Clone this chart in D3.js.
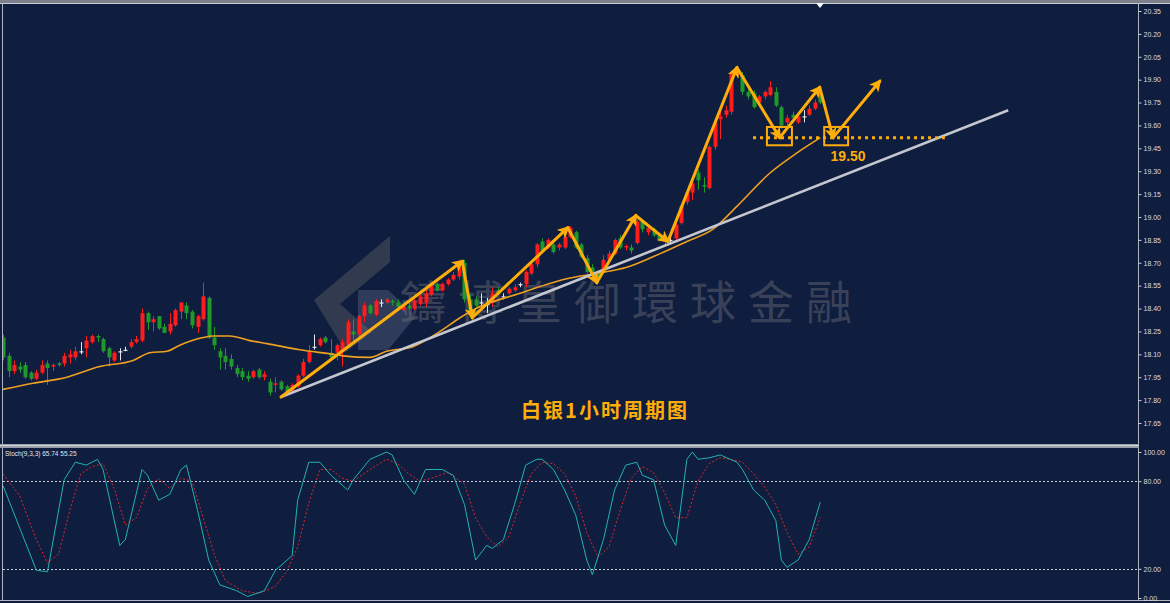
<!DOCTYPE html>
<html>
<head>
<meta charset="utf-8">
<script src="https://cdn.jsdelivr.net/npm/d3@7"></script>
<style>
  body { margin: 0; background: #0f1d3e; }
  svg { display: block; }
</style>
</head>
<body>
<div id="container"></div>
<script>
let w = 1170;
let h = 603;

// DATA (silver, 1 hour candles)
let openV = [18.21,18.09,17.99,18.02,18.03,17.98,17.94,17.98,18.04,18.02,
  18.04,18.04,18.08,18.08,18.12,18.14,18.18,18.22,18.20,18.14,
  18.06,18.12,18.13,18.15,18.18,18.19,18.37,18.31,18.35,18.28,
  18.25,18.29,18.38,18.42,18.38,18.28,18.33,18.47,18.21,18.12,
  18.09,18.07,18.01,17.99,17.96,17.95,18.00,17.95,17.92,17.90,
  17.92,17.89,17.86,17.89,17.96,18.05,18.15,18.16,18.21,18.11,
  18.11,18.12,18.16,18.25,18.23,18.35,18.42,18.36,18.44,18.44,
  18.45,18.44,18.39,18.42,18.40,18.43,18.44,18.49,18.56,18.52,
  18.56,18.59,18.61,18.70,18.46,18.46,18.44,18.43,18.44,18.52,
  18.48,18.50,18.52,18.56,18.56,18.63,18.69,18.84,18.80,18.82,
  18.80,18.80,18.87,18.90,18.82,18.73,18.67,18.63,18.64,18.72,
  18.76,18.86,18.80,18.80,18.83,18.97,18.90,18.92,18.88,18.87,
  18.85,18.86,18.96,19.10,19.16,19.29,19.21,19.19,19.46,19.64,
  19.67,19.69,19.93,19.93,19.82,19.81,19.75,19.79,19.80,19.82,
  19.72,19.62,19.67,19.62,19.66,19.67,19.71,19.81];
let highV = [18.23,18.11,18.06,18.05,18.05,17.99,18.00,18.06,18.06,18.04,
  18.05,18.11,18.13,18.15,18.18,18.22,18.23,18.23,18.21,18.15,
  18.12,18.14,18.15,18.20,18.22,18.40,18.38,18.35,18.35,18.30,
  18.37,18.40,18.44,18.44,18.39,18.36,18.57,18.48,18.28,18.14,
  18.14,18.10,18.03,18.01,17.99,18.00,18.01,17.99,17.94,17.95,
  17.93,17.90,17.91,17.97,18.07,18.16,18.23,18.21,18.22,18.20,
  18.17,18.20,18.33,18.33,18.36,18.44,18.43,18.46,18.46,18.47,
  18.46,18.46,18.44,18.44,18.46,18.49,18.52,18.56,18.57,18.57,
  18.60,18.64,18.72,18.72,18.49,18.48,18.50,18.47,18.54,18.54,
  18.50,18.54,18.56,18.57,18.65,18.70,18.83,18.86,18.86,18.83,
  18.83,18.88,18.94,18.91,18.83,18.75,18.69,18.65,18.75,18.78,
  18.86,18.88,18.82,18.82,18.98,18.98,18.94,18.93,18.90,18.88,
  18.87,18.97,19.08,19.18,19.24,19.31,19.26,19.47,19.65,19.72,
  19.73,19.96,19.99,19.95,19.85,19.83,19.80,19.83,19.89,19.85,
  19.73,19.67,19.69,19.67,19.70,19.73,19.77,19.83];
let lowV = [18.06,17.95,17.97,17.98,17.94,17.93,17.93,17.97,17.90,17.99,
  18.02,18.02,18.04,18.06,18.10,18.08,18.17,18.18,18.11,18.02,
  18.05,18.06,18.12,18.14,18.17,18.18,18.26,18.25,18.26,18.24,
  18.23,18.28,18.33,18.33,18.27,18.24,18.32,18.20,18.13,18.00,
  18.00,18.00,17.95,17.93,17.92,17.94,17.94,17.93,17.83,17.85,
  17.86,17.83,17.85,17.88,17.95,18.04,18.13,18.15,18.17,18.07,
  18.06,18.02,18.15,18.18,18.22,18.31,18.36,18.35,18.41,18.43,
  18.42,18.40,18.38,18.39,18.39,18.42,18.41,18.48,18.51,18.51,
  18.55,18.58,18.59,18.44,18.34,18.41,18.41,18.37,18.41,18.49,
  18.46,18.49,18.51,18.54,18.54,18.62,18.67,18.77,18.79,18.76,
  18.78,18.79,18.86,18.79,18.73,18.63,18.62,18.57,18.63,18.71,
  18.75,18.79,18.78,18.76,18.82,18.90,18.88,18.87,18.84,18.82,
  18.82,18.85,18.95,19.08,19.11,19.18,19.16,19.18,19.44,19.51,
  19.65,19.67,19.91,19.80,19.77,19.71,19.73,19.77,19.79,19.72,
  19.58,19.60,19.64,19.61,19.62,19.66,19.70,19.74];
let closeV = [18.08,17.99,18.03,18.00,17.95,17.94,17.98,18.03,18.01,18.03,
  18.03,18.09,18.10,18.12,18.12,18.19,18.22,18.21,18.12,18.08,
  18.11,18.12,18.13,18.18,18.20,18.37,18.31,18.33,18.27,18.24,
  18.30,18.39,18.44,18.37,18.29,18.35,18.48,18.21,18.16,18.08,
  18.05,18.02,17.97,17.95,17.94,17.99,17.95,17.97,17.85,17.91,
  17.87,17.85,17.90,17.96,18.05,18.12,18.15,18.20,18.18,18.08,
  18.16,18.18,18.31,18.23,18.35,18.42,18.37,18.45,18.44,18.46,
  18.44,18.41,18.42,18.40,18.45,18.48,18.50,18.55,18.52,18.56,
  18.59,18.62,18.67,18.46,18.38,18.42,18.44,18.43,18.50,18.50,
  18.48,18.53,18.54,18.56,18.64,18.69,18.82,18.78,18.85,18.77,
  18.82,18.87,18.93,18.80,18.74,18.64,18.63,18.59,18.72,18.76,
  18.85,18.80,18.81,18.78,18.97,18.92,18.93,18.88,18.85,18.84,
  18.85,18.95,19.07,19.16,19.22,19.24,19.20,19.46,19.62,19.66,
  19.70,19.94,19.96,19.82,19.79,19.72,19.79,19.82,19.85,19.73,
  19.60,19.65,19.65,19.66,19.66,19.71,19.75,19.75];

// moving average (candle index, price)
let maIdx = [0,5.4,11.5,17.4,23.4,26.4,29.5,31.8,36,37.8,40.8,44.4,47.5,53.4,59.4,61.2,66,69,73.7,78.6,82.2,84.5,93,102,106.8,112.2,118.2,123,127.7,132,138,142.8,147];
let maVal = [17.87,17.91,17.95,18.02,18.06,18.11,18.12,18.16,18.21,18.22,18.22,18.19,18.17,18.13,18.10,18.09,18.08,18.12,18.15,18.25,18.34,18.39,18.50,18.60,18.63,18.67,18.76,18.84,18.92,19.07,19.29,19.42,19.52];

// stochastic (9,3,3)
let stochIdx = [0,6,8,11,13,15,17,18,21,22,25,26,28,30,32,33,35,37,39,42,44,47,49,52,53,55,57,59,62,63,66,69,70,72,74,76,79,81,83,85,87,88,90,92,94,96,97,99,101,103,105,106,108,110,112,114,115,117,119,121,123,124,125,127,129,132,133,135,137,139,140,141,143,145,147];
let stochK = [77,19,18,81,93,91,95,88,36,40,88,84,67,71,88,91,60,26,9,5,1,5,19,29,67,93,93,84,74,81,95,100,98,81,71,88,88,84,64,26,36,34,40,64,91,95,95,88,74,57,26,16,40,74,91,93,84,81,50,36,95,100,95,96,98,93,88,74,67,53,26,21,26,40,65.74];
let stochDIdx = [0,3,6,8,10,12,14,16,18,20,22,24,26,28,30,32,34,36,38,40,43,46,49,51,53,55,57,59,61,63,66,69,71,73,75,77,80,83,85,87,89,91,93,95,97,99,101,103,105,107,109,111,113,115,117,119,121,123,125,127,129,131,133,135,137,139,141,143,145,147];
let stochD = [85,70,40,24,30,60,85,90,92,75,50,55,75,82,75,82,80,55,30,12,5,3,8,18,35,65,88,88,82,80,88,95,92,85,80,82,86,78,55,42,35,42,65,85,93,92,85,70,45,28,35,60,82,90,86,72,55,55,80,92,96,95,93,85,76,64,45,30,35,55.25];

let priceTicks = [20.35,20.20,20.05,19.90,19.75,19.60,19.45,19.30,19.15,19.00,18.85,18.70,18.55,18.40,18.25,18.10,17.95,17.80,17.65];
let stochTicks = [100, 80, 20, 0];

// annotations (candle index, price)
let zigIdx = [50.0,82.6,84.4,101.6,106.8,113.8,119.6,132.0,139.7,146.9,149.3,157.7];
let zigVal = [17.82,18.71,18.34,18.93,18.57,19.01,18.84,19.98,19.52,19.85,19.52,19.89];
let trendIdx = [50.0, 180.8];
let trendVal = [17.82, 19.70];
let supportLevel = 19.52;
let supportIdx = [134.9, 169.4];
let boxIdx = [[137.4, 141.9], [147.7, 152.0]];
let boxVal = [19.59, 19.47];

let orange = "#ffad0a";
let navy = "#0f1d3e";

// SVG
let viz = d3.select("#container").append("svg")
    .attr("width", w)
    .attr("height", h)
    .style("background-color", navy);

let defs = viz.append("defs");
defs.append("clipPath").attr("id", "mainClip").append("rect")
    .attr("x", 3).attr("y", 4).attr("width", 1135).attr("height", 440);
defs.append("clipPath").attr("id", "stochClip").append("rect")
    .attr("x", 3).attr("y", 449).attr("width", 1135).attr("height", 150);
defs.append("marker")
    .attr("id", "arrow")
    .attr("viewBox", "0 0 10 10")
    .attr("refX", 8).attr("refY", 5)
    .attr("markerWidth", 4).attr("markerHeight", 4)
    .attr("orient", "auto")
  .append("path")
    .attr("d", "M0,0L10,5L0,10L2.5,5z")
    .attr("fill", orange);

// SCALES
let x = d3.scaleLinear().domain([0, 147]).range([3, 820.3]);
let y = d3.scaleLinear().domain([17.65, 20.35]).range([423, 11]);
let ys = d3.scaleLinear().domain([0, 100]).range([598, 452]);

// FRAME
viz.append("rect").attr("x", 0).attr("y", 0).attr("width", w).attr("height", 3).attr("fill", "#7c818c");
viz.append("line").attr("x1", 0).attr("x2", w).attr("y1", 3.5).attr("y2", 3.5).attr("stroke", "#c9ccd3");
viz.append("line").attr("x1", 2.5).attr("x2", 2.5).attr("y1", 3).attr("y2", 600).attr("stroke", "#aeb3bd");
viz.append("line").attr("x1", 1138.5).attr("x2", 1138.5).attr("y1", 3).attr("y2", 600).attr("stroke", "#aeb3bd");
viz.append("rect").attr("x", 0).attr("y", 444).attr("width", 1139).attr("height", 4).attr("fill", "#9aa0ab");
viz.append("line").attr("x1", 0).attr("x2", 1139).attr("y1", 445.5).attr("y2", 445.5).attr("stroke", "#d4d7dc");
viz.append("line").attr("x1", 0).attr("x2", w).attr("y1", 600.5).attr("y2", 600.5).attr("stroke", "#aeb3bd");
viz.append("path").attr("d", "M816,3L824,3L820,8z").attr("fill", "#ffffff");

// WATERMARK
let wm = viz.append("g").attr("clip-path", "url(#mainClip)");
wm.append("path")
    .attr("d", "M314,300 L390,236 L390,262 L340,304 L372,332 L346,352 Z")
    .attr("fill", "#5d5f66").attr("opacity", 0.45);
wm.append("path")
    .attr("d", "M358,290 L388,290 L416,316 L388,350 L358,350 Z")
    .attr("fill", "#6a7590").attr("opacity", 0.35);
wm.append("text")
    .attr("x", 632).attr("y", 319)
    .attr("text-anchor", "middle")
    .attr("font-family", "Noto Sans CJK TC")
    .attr("font-size", 46)
    .attr("letter-spacing", 12)
    .attr("fill", "#6b6e78").attr("opacity", 0.45)
    .text("鑄博皇御環球金融");

// MAIN PANEL
let main = viz.append("g").attr("clip-path", "url(#mainClip)");

let candles = main.selectAll(".candle").data(openV.map((o, i) => i))
  .enter().append("g").attr("class", "candle");
let candleColor = i => closeV[i] > openV[i] ? "#ff1c1c" : (closeV[i] < openV[i] ? "#1f9a2a" : "#e4e6ea");
candles.append("line")
    .attr("x1", i => Math.round(x(i)) + 0.5)
    .attr("x2", i => Math.round(x(i)) + 0.5)
    .attr("y1", i => y(highV[i]))
    .attr("y2", i => y(lowV[i]))
    .attr("stroke", candleColor)
    .attr("stroke-width", 1);
candles.append("rect")
    .attr("x", i => Math.round(x(i)) - 1.5)
    .attr("width", 4)
    .attr("y", i => y(Math.max(openV[i], closeV[i])))
    .attr("height", i => Math.max(1.2, Math.abs(y(openV[i]) - y(closeV[i]))))
    .attr("fill", candleColor);

// moving average
let maLine = d3.line().x(d => x(d[0])).y(d => y(d[1])).curve(d3.curveMonotoneX);
main.append("path")
    .datum(maIdx.map((d, i) => [d, maVal[i]]))
    .attr("d", maLine)
    .attr("fill", "none")
    .attr("stroke", "#f0a020")
    .attr("stroke-width", 1.6);

// trend line
main.append("line")
    .attr("x1", x(trendIdx[0])).attr("y1", y(trendVal[0]))
    .attr("x2", x(trendIdx[1])).attr("y2", y(trendVal[1]))
    .attr("stroke", "#c4c7cf")
    .attr("stroke-width", 2.6);

// support level
main.append("line")
    .attr("x1", x(supportIdx[0])).attr("x2", x(supportIdx[1]))
    .attr("y1", y(supportLevel)).attr("y2", y(supportLevel))
    .attr("stroke", orange)
    .attr("stroke-width", 3)
    .attr("stroke-dasharray", "3,4");

main.selectAll(".box").data(boxIdx).enter().append("rect")
    .attr("class", "box")
    .attr("x", d => x(d[0]))
    .attr("width", d => x(d[1]) - x(d[0]))
    .attr("y", y(boxVal[0]))
    .attr("height", y(boxVal[1]) - y(boxVal[0]))
    .attr("fill", "none")
    .attr("stroke", orange)
    .attr("stroke-width", 2);

// zigzag arrows
let segs = d3.range(zigIdx.length - 1);
main.selectAll(".seg").data(segs).enter().append("line")
    .attr("class", "seg")
    .attr("x1", i => x(zigIdx[i])).attr("y1", i => y(zigVal[i]))
    .attr("x2", i => x(zigIdx[i + 1])).attr("y2", i => y(zigVal[i + 1]))
    .attr("stroke", orange)
    .attr("stroke-width", 3)
    .attr("stroke-linecap", "round")
    .attr("marker-end", "url(#arrow)");

main.append("text")
    .attr("x", x(152)).attr("y", y(19.37))
    .attr("text-anchor", "middle")
    .attr("font-family", "Liberation Sans")
    .attr("font-weight", "bold")
    .attr("font-size", 14)
    .attr("fill", orange)
    .text("19.50");

main.append("text")
    .attr("x", 605).attr("y", 418)
    .attr("text-anchor", "middle")
    .attr("font-family", "Noto Sans CJK SC")
    .attr("font-weight", "bold")
    .attr("font-size", 20)
    .attr("letter-spacing", 2)
    .attr("fill", orange)
    .text("白银1小时周期图");

// price axis
let yAxis = d3.axisRight(y).tickValues(priceTicks).tickSize(3).tickFormat(d3.format(".2f"));
let ya = viz.append("g").attr("transform", "translate(1138.5,0)").call(yAxis);
ya.select(".domain").remove();
ya.selectAll("line").attr("stroke", "#c9ccd3");
ya.selectAll("text").attr("fill", "#d9dce3").attr("font-family", "Liberation Sans").attr("font-size", 7).attr("x", 5);

// STOCH PANEL
let st = viz.append("g").attr("clip-path", "url(#stochClip)");
[80, 20].forEach(v => {
  st.append("line")
    .attr("x1", 3).attr("x2", 1138)
    .attr("y1", Math.round(ys(v)) + 0.5).attr("y2", Math.round(ys(v)) + 0.5)
    .attr("stroke", "#c8ccd6")
    .attr("stroke-dasharray", "2,2");
});
let kLine = d3.line().x(d => x(d[0])).y(d => ys(d[1]));
st.append("path")
    .datum(stochDIdx.map((d, i) => [d, stochD[i]]))
    .attr("d", kLine)
    .attr("fill", "none")
    .attr("stroke", "#e0262a")
    .attr("stroke-width", 1)
    .attr("stroke-dasharray", "2,2");
st.append("path")
    .datum(stochIdx.map((d, i) => [d, stochK[i]]))
    .attr("d", kLine)
    .attr("fill", "none")
    .attr("stroke", "#22b3b0")
    .attr("stroke-width", 1);

viz.append("text")
    .attr("x", 5).attr("y", 456)
    .attr("font-family", "Liberation Sans")
    .attr("font-size", 6.5)
    .attr("fill", "#e2e4ea")
    .text("Stoch(9,3,3) 65.74 55.25");

let sAxis = d3.axisRight(ys).tickValues(stochTicks).tickSize(3).tickFormat(d3.format(".2f"));
let sa = viz.append("g").attr("transform", "translate(1138.5,0)").call(sAxis);
sa.select(".domain").remove();
sa.selectAll("line").attr("stroke", "#c9ccd3");
sa.selectAll("text").attr("fill", "#d9dce3").attr("font-family", "Liberation Sans").attr("font-size", 7).attr("x", 5);
</script>
</body>
</html>
